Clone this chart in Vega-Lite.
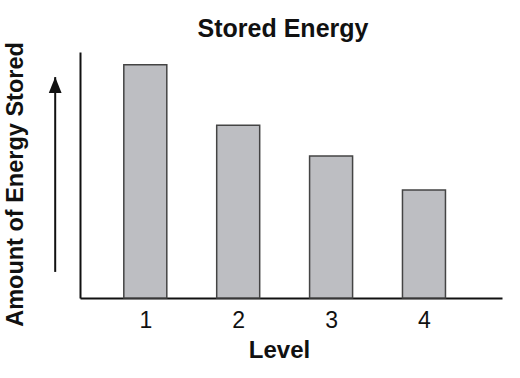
{
  "$schema": "https://vega.github.io/schema/vega-lite/v6.json",
  "width": 422,
  "height": 246,
  "autosize": {"type": "none"},
  "padding": {"left": 80, "top": 52, "right": 18, "bottom": 80},
  "background": "white",
  "title": {
    "text": "Stored Energy",
    "font": "Liberation Sans",
    "fontSize": 25,
    "fontWeight": "bold",
    "color": "#111111",
    "anchor": "middle",
    "frame": "group",
    "dx": -8,
    "baseline": "alphabetic",
    "offset": -20
  },
  "config": {"view": {"stroke": null}},
  "datasets": {
    "bars": [
      {"level": 1, "energy": 94.8},
      {"level": 2, "energy": 70.2},
      {"level": 3, "energy": 57.7},
      {"level": 4, "energy": 43.9}
    ],
    "arrow": [
      {"level": 0.03, "energy": 10.6, "energy2": 89.8}
    ]
  },
  "layer": [
    {
      "data": {"name": "bars"},
      "mark": {"type": "bar", "size": 43, "fill": "#bdbec2", "stroke": "#444444", "strokeWidth": 1.5},
      "encoding": {
        "x": {
          "field": "level",
          "type": "quantitative",
          "scale": {"domain": [0.297, 4.84], "nice": false, "zero": false, "padding": 0},
          "axis": {
            "title": "Level",
            "values": [1, 2, 3, 4],
            "format": "d",
            "ticks": false,
            "tickSize": 0,
            "grid": false,
            "domainColor": "#111111",
            "domainWidth": 2,
            "labelFont": "Liberation Sans",
            "labelFontSize": 23,
            "labelColor": "#111111",
            "labelBaseline": "alphabetic",
            "labelPadding": 29,
            "titleFont": "Liberation Sans",
            "titleFontSize": 24,
            "titleFontWeight": "bold",
            "titleColor": "#111111",
            "titleX": 199,
            "titleY": 59,
            "titleBaseline": "alphabetic",
            "titleAlign": "center"
          }
        },
        "y": {
          "field": "energy",
          "type": "quantitative",
          "scale": {"domain": [0, 100], "nice": false, "padding": 0},
          "axis": {
            "title": "Amount of Energy Stored",
            "labels": false,
            "ticks": false,
            "tickSize": 0,
            "grid": false,
            "domainColor": "#111111",
            "domainWidth": 2,
            "titleFont": "Liberation Sans",
            "titleFontSize": 23.5,
            "titleFontWeight": "bold",
            "titleColor": "#111111",
            "titleX": -58,
            "titleY": 132,
            "titleAngle": 270,
            "titleBaseline": "alphabetic",
            "titleAlign": "center"
          }
        }
      }
    },
    {
      "data": {"name": "arrow"},
      "mark": {"type": "rule", "color": "#111111", "strokeWidth": 2},
      "encoding": {
        "x": {"field": "level", "type": "quantitative"},
        "y": {"field": "energy", "type": "quantitative"},
        "y2": {"field": "energy2"}
      }
    },
    {
      "data": {"name": "arrow"},
      "mark": {"type": "point", "shape": "M0,0L0.8,2L-0.8,2Z", "size": 256, "filled": true, "fill": "#111111", "opacity": 1, "strokeWidth": 0},
      "encoding": {
        "x": {"field": "level", "type": "quantitative"},
        "y": {"field": "energy2", "type": "quantitative"}
      }
    }
  ]
}
